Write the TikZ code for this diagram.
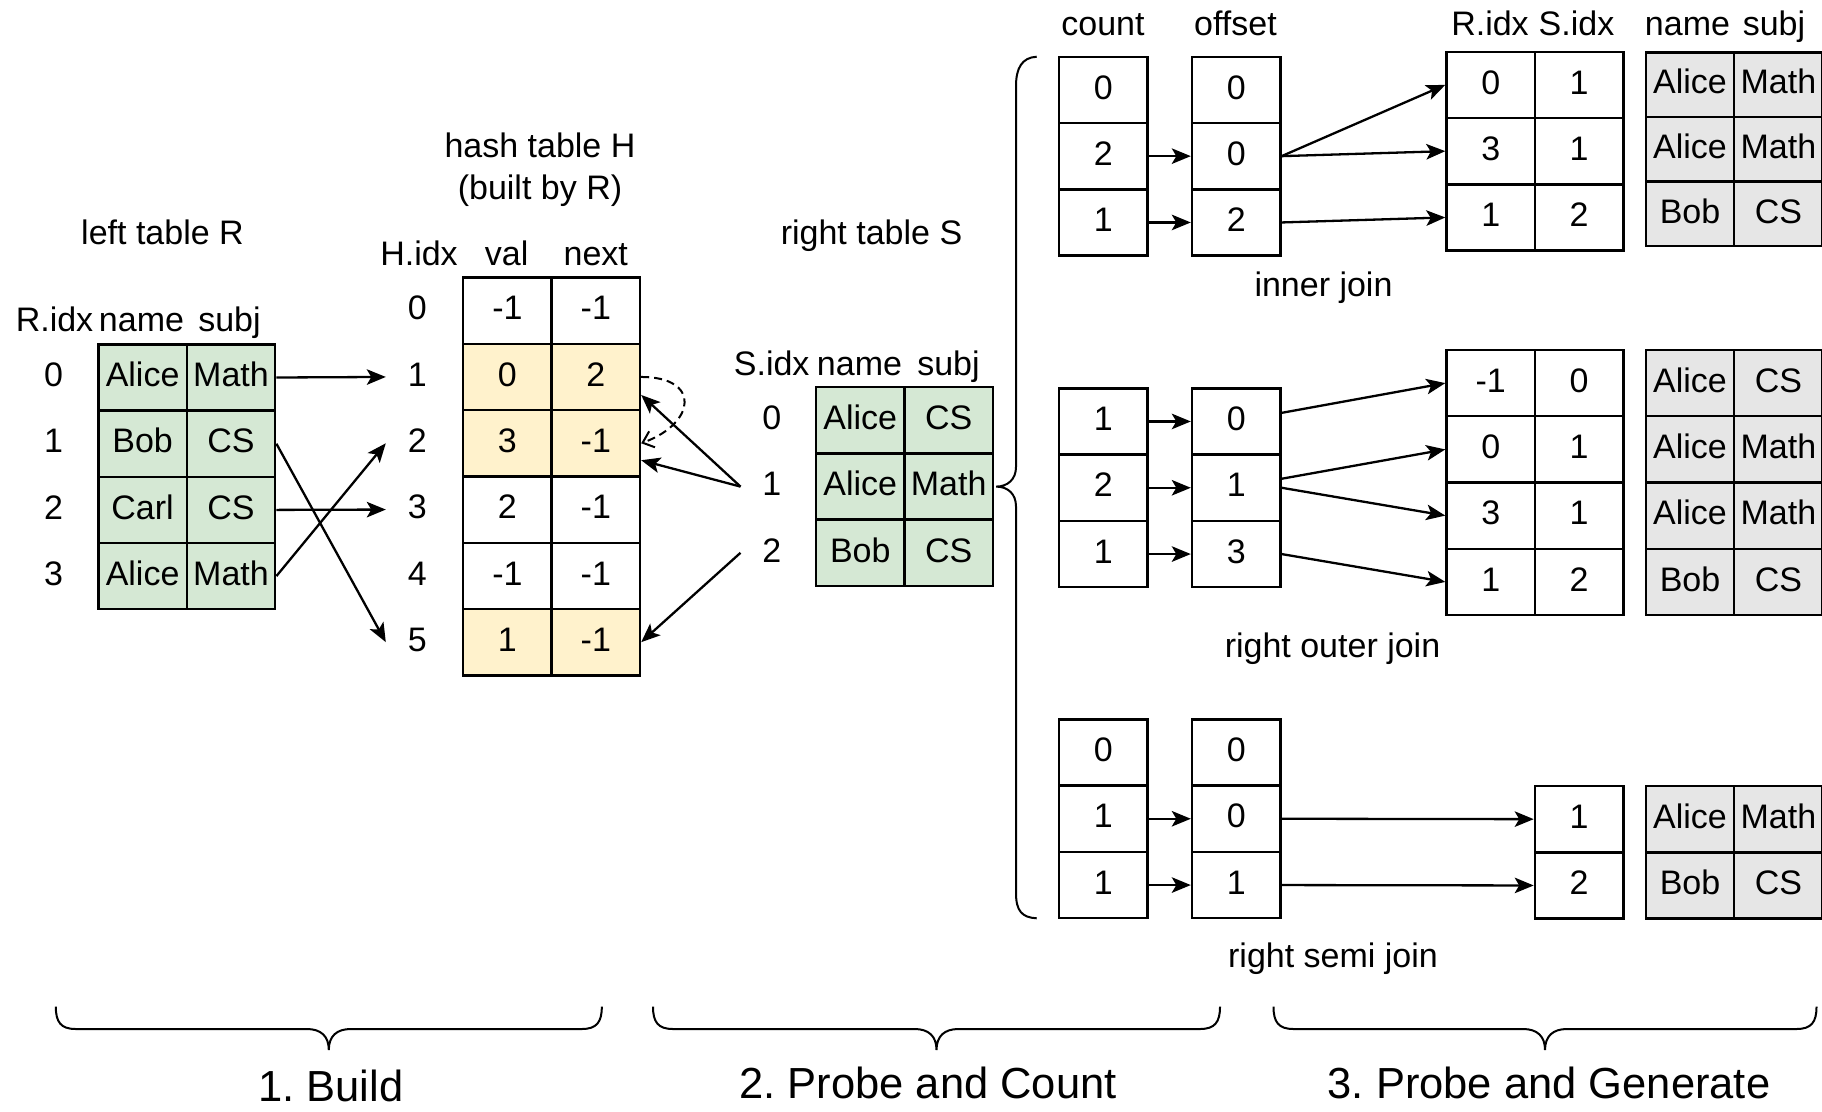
\documentclass[tikz,border=0pt]{standalone}
\usepackage{fontspec}
\setmainfont{Liberation Sans}
\usetikzlibrary{arrows.meta}
\frenchspacing

\definecolor{grn}{HTML}{D5E8D4}
\definecolor{ylw}{HTML}{FFF2CC}
\definecolor{gry}{HTML}{E6E6E6}

% one bordered table cell: [style]{name}{x}{y}{text}
\newcommand{\tcell}[5][]{\node[cellbox,#1] (#2) at (#3,#4) {#5};}
% an index number beside a table row: [style]{name}{x}{y}{text}
\newcommand{\tidx}[5][]{\node[idxlbl,#1] (#2) at (#3,#4) {#5};}
% a horizontal curly brace under a stage, from x=#1 to x=#2
\newcommand{\bracebelow}[2]{%
  \pgfmathsetmacro{\bmid}{(#1+#2)/2}%
  \draw[bracepath] (#1,1006.7) .. controls (#1,1022) and ({#1+5},1029) .. ({#1+20},1029)
    -- ({\bmid-22},1029) .. controls ({\bmid-8},1029) and (\bmid,1036) .. (\bmid,1050)
    .. controls (\bmid,1036) and ({\bmid+8},1029) .. ({\bmid+22},1029)
    -- ({#2-20},1029) .. controls ({#2-5},1029) and (#2,1022) .. (#2,1006.7);}

\begin{document}
\begin{tikzpicture}[x=1pt,y=-1pt,
  every node/.style={font=\fontsize{34}{40}\selectfont},
  cellbox/.style={draw, line width=2.4pt, minimum width=88.4pt, minimum height=66.3pt,
    inner sep=0pt, text height=24pt, text depth=5.6pt},
  idxlbl/.style={inner sep=0pt, text height=24pt, text depth=5.6pt},
  lbl/.style={anchor=base, inner sep=0pt},
  stage/.style={lbl, font=\fontsize{43.5}{50}\selectfont},
  arr/.style={line width=2.3pt, -{Stealth[length=19pt,width=15.5pt,inset=4.5pt]}},
  chain/.style={line width=2pt, dash pattern=on 8pt off 5pt, -{Straight Barb[length=10pt,width=17pt]}},
  bracepath/.style={line width=2pt}]

\useasboundingbox (0,0) rectangle (1822,1111);

% ---------------- left table R ----------------
\node[lbl] (tR) at (162.5,244) {left table R};
\node[lbl] (hRi) at (54.5,331.5) {R.idx};
\node[lbl] (hRn) at (141.5,331.5) {name};
\node[lbl] (hRs) at (229.5,331.5) {subj};
\tidx{ri0}{53.6}{377.5}{0}
\tidx{ri1}{53.6}{443.7}{1}
\tidx{ri2}{53.6}{509.9}{2}
\tidx{ri3}{53.6}{576.1}{3}
\tcell[fill=grn]{rn0}{142.6}{377.5}{Alice} \tcell[fill=grn]{rs0}{231.0}{377.5}{Math}
\tcell[fill=grn]{rn1}{142.6}{443.7}{Bob}   \tcell[fill=grn]{rs1}{231.0}{443.7}{CS}
\tcell[fill=grn]{rn2}{142.6}{509.9}{Carl}  \tcell[fill=grn]{rs2}{231.0}{509.9}{CS}
\tcell[fill=grn]{rn3}{142.6}{576.1}{Alice} \tcell[fill=grn]{rs3}{231.0}{576.1}{Math}

% ---------------- hash table H ----------------
\node[lbl] (tH) at (540,157.5) {hash table H};
\node[lbl] (tHb) at (540,199) {(built by R)};
\node[lbl] (hHi) at (419,265.5) {H.idx};
\node[lbl] (hHv) at (506.7,265.5) {val};
\node[lbl] (hHn) at (595.8,265.5) {next};
\tidx[minimum width=62.8pt]{hi0}{417.4}{310.65}{0}
\tidx[minimum width=62.8pt]{hi1}{417.4}{376.95}{1}
\tidx[minimum width=62.8pt]{hi2}{417.4}{443.25}{2}
\tidx[minimum width=62.8pt]{hi3}{417.4}{509.55}{3}
\tidx[minimum width=62.8pt]{hi4}{417.4}{575.85}{4}
\tidx[minimum width=62.8pt]{hi5}{417.4}{642.15}{5}
\tcell{hv0}{507.4}{310.65}{-1}          \tcell{hn0}{595.8}{310.65}{-1}
\tcell[fill=ylw]{hv1}{507.4}{376.95}{0} \tcell[fill=ylw]{hn1}{595.8}{376.95}{2}
\tcell[fill=ylw]{hv2}{507.4}{443.25}{3} \tcell[fill=ylw]{hn2}{595.8}{443.25}{-1}
\tcell{hv3}{507.4}{509.55}{2}           \tcell{hn3}{595.8}{509.55}{-1}
\tcell{hv4}{507.4}{575.85}{-1}          \tcell{hn4}{595.8}{575.85}{-1}
\tcell[fill=ylw]{hv5}{507.4}{642.15}{1} \tcell[fill=ylw]{hn5}{595.8}{642.15}{-1}

% ---------------- right table S ----------------
\node[lbl] (tS) at (871.5,244) {right table S};
\node[lbl] (hSi) at (771.7,375) {S.idx};
\node[lbl] (hSn) at (859.5,375) {name};
\node[lbl] (hSs) at (948.5,375) {subj};
\tidx[minimum width=62pt]{si0}{771.7}{420.4}{0}
\tidx[minimum width=62pt]{si1}{771.7}{486.6}{1}
\tidx[minimum width=62pt]{si2}{771.7}{552.8}{2}
\tcell[fill=grn]{sn0}{860.3}{420.4}{Alice} \tcell[fill=grn]{ss0}{948.7}{420.4}{CS}
\tcell[fill=grn]{sn1}{860.3}{486.6}{Alice} \tcell[fill=grn]{ss1}{948.7}{486.6}{Math}
\tcell[fill=grn]{sn2}{860.3}{552.8}{Bob}   \tcell[fill=grn]{ss2}{948.7}{552.8}{CS}

% ---------------- build: rows of R hashed into H ----------------
\draw[arr] (rs0.east) -- (hi1.west);
\draw[arr] (rs1.east) -- (hi5.west);
\draw[arr] (rs2.east) -- (hi3.west);
\draw[arr] (rs3.east) -- (hi2.west);
\draw[chain] (hn1.east) .. controls +(60,0) and +(55,-20) .. (hn2.east);

% ---------------- probe: rows of S looked up in H ----------------
\draw[arr] (si1.west) -- ([yshift=-18pt]hn1.east);
\draw[arr] (si1.west) -- ([yshift=-17pt]hn2.east);
\draw[arr] (si2.west) -- (hn5.east);

% brace from S to the three join variants
\draw[bracepath] (1036.7,56.7) .. controls (1022,57.5) and (1016,68) .. (1016,86)
  -- (1016,467) .. controls (1016,479) and (1008,486.6) .. ([xshift=2pt]ss1.east)
  .. controls (1008,486.6) and (1016,494) .. (1016,506.5)
  -- (1016,893) .. controls (1016,911) and (1022,917.5) .. (1036.7,918.3);

% ---------------- column headers, right part ----------------
\node[lbl] (hC) at (1103,35) {count};
\node[lbl] (hO) at (1235.5,35) {offset};
\node[lbl] (hJr) at (1490,35) {R.idx};
\node[lbl] (hJs) at (1576.5,35) {S.idx};
\node[lbl] (hGn) at (1687.5,35) {name};
\node[lbl] (hGs) at (1774,35) {subj};

% ---------------- inner join ----------------
\tcell{ic0}{1103.3}{89.85}{0}  \tcell{io0}{1236.2}{89.85}{0}
\tcell{ic1}{1103.3}{156.15}{2} \tcell{io1}{1236.2}{156.15}{0}
\tcell{ic2}{1103.3}{222.45}{1} \tcell{io2}{1236.2}{222.45}{2}
\tcell{ir0}{1490.7}{84.85}{0}  \tcell{is0}{1579.1}{84.85}{1}
\tcell{ir1}{1490.7}{151.15}{3} \tcell{is1}{1579.1}{151.15}{1}
\tcell{ir2}{1490.7}{217.45}{1} \tcell{is2}{1579.1}{217.45}{2}
\tcell[fill=gry,minimum height=64.6pt]{ign0}{1690}{84.6}{Alice}  \tcell[fill=gry,minimum height=64.6pt]{igs0}{1778.4}{84.6}{Math}
\tcell[fill=gry,minimum height=64.6pt]{ign1}{1690}{149.2}{Alice} \tcell[fill=gry,minimum height=64.6pt]{igs1}{1778.4}{149.2}{Math}
\tcell[fill=gry,minimum height=64.6pt]{ign2}{1690}{213.8}{Bob}   \tcell[fill=gry,minimum height=64.6pt]{igs2}{1778.4}{213.8}{CS}
\draw[arr] (ic1.east) -- (io1.west);
\draw[arr] (ic2.east) -- (io2.west);
\draw[arr] (io1.east) -- (ir0.west);
\draw[arr] (io1.east) -- (ir1.west);
\draw[arr] (io2.east) -- (ir2.west);
\node[lbl] (lInner) at (1323.5,296.5) {inner join};

% ---------------- right outer join ----------------
\tcell{oc0}{1103.3}{421.45}{1} \tcell{oo0}{1236.2}{421.45}{0}
\tcell{oc1}{1103.3}{487.75}{2} \tcell{oo1}{1236.2}{487.75}{1}
\tcell{oc2}{1103.3}{554.05}{1} \tcell{oo2}{1236.2}{554.05}{3}
\tcell{or0}{1490.7}{383.1}{-1} \tcell{os0}{1579.1}{383.1}{0}
\tcell{or1}{1490.7}{449.4}{0}  \tcell{os1}{1579.1}{449.4}{1}
\tcell{or2}{1490.7}{515.6}{3}  \tcell{os2}{1579.1}{515.6}{1}
\tcell{or3}{1490.7}{581.9}{1}  \tcell{os3}{1579.1}{581.9}{2}
\tcell[fill=gry]{ogn0}{1690}{383.1}{Alice} \tcell[fill=gry]{ogs0}{1778.4}{383.1}{CS}
\tcell[fill=gry]{ogn1}{1690}{449.4}{Alice} \tcell[fill=gry]{ogs1}{1778.4}{449.4}{Math}
\tcell[fill=gry]{ogn2}{1690}{515.6}{Alice} \tcell[fill=gry]{ogs2}{1778.4}{515.6}{Math}
\tcell[fill=gry]{ogn3}{1690}{581.9}{Bob}   \tcell[fill=gry]{ogs3}{1778.4}{581.9}{CS}
\draw[arr] (oc0.east) -- (oo0.west);
\draw[arr] (oc1.east) -- (oo1.west);
\draw[arr] (oc2.east) -- (oo2.west);
\draw[arr] ([yshift=8.6pt]oo0.east) -- (or0.west);
\draw[arr] ([yshift=9pt]oo1.east) -- (or1.west);
\draw[arr] (oo1.east) -- (or2.west);
\draw[arr] (oo2.east) -- (or3.west);
\node[lbl] (lOuter) at (1332.5,657) {right outer join};

% ---------------- right semi join ----------------
\tcell{mc0}{1103.3}{752.45}{0} \tcell{mo0}{1236.2}{752.45}{0}
\tcell{mc1}{1103.3}{818.75}{1} \tcell{mo1}{1236.2}{818.75}{0}
\tcell{mc2}{1103.3}{885.05}{1} \tcell{mo2}{1236.2}{885.05}{1}
\tcell{ms0}{1579.1}{819.15}{1}
\tcell{ms1}{1579.1}{885.45}{2}
\tcell[fill=gry]{mgn0}{1690}{819.15}{Alice} \tcell[fill=gry]{mgs0}{1778.4}{819.15}{Math}
\tcell[fill=gry]{mgn1}{1690}{885.45}{Bob}   \tcell[fill=gry]{mgs1}{1778.4}{885.45}{CS}
\draw[arr] (mc1.east) -- (mo1.west);
\draw[arr] (mc2.east) -- (mo2.west);
\draw[arr] (mo1.east) -- (ms0.west);
\draw[arr] (mo2.east) -- (ms1.west);
\node[lbl] (lSemi) at (1333,967.5) {right semi join};

% ---------------- stages ----------------
\bracebelow{55.8}{601.8}
\bracebelow{653}{1220}
\bracebelow{1273.5}{1816.5}
\node[stage] (st1) at (330.7,1101.5) {1. Build};
\node[stage] (st2) at (928,1098.3) {2. Probe and Count};
\node[stage] (st3) at (1549,1098.3) {3. Probe and Generate};
\end{tikzpicture}
\end{document}
